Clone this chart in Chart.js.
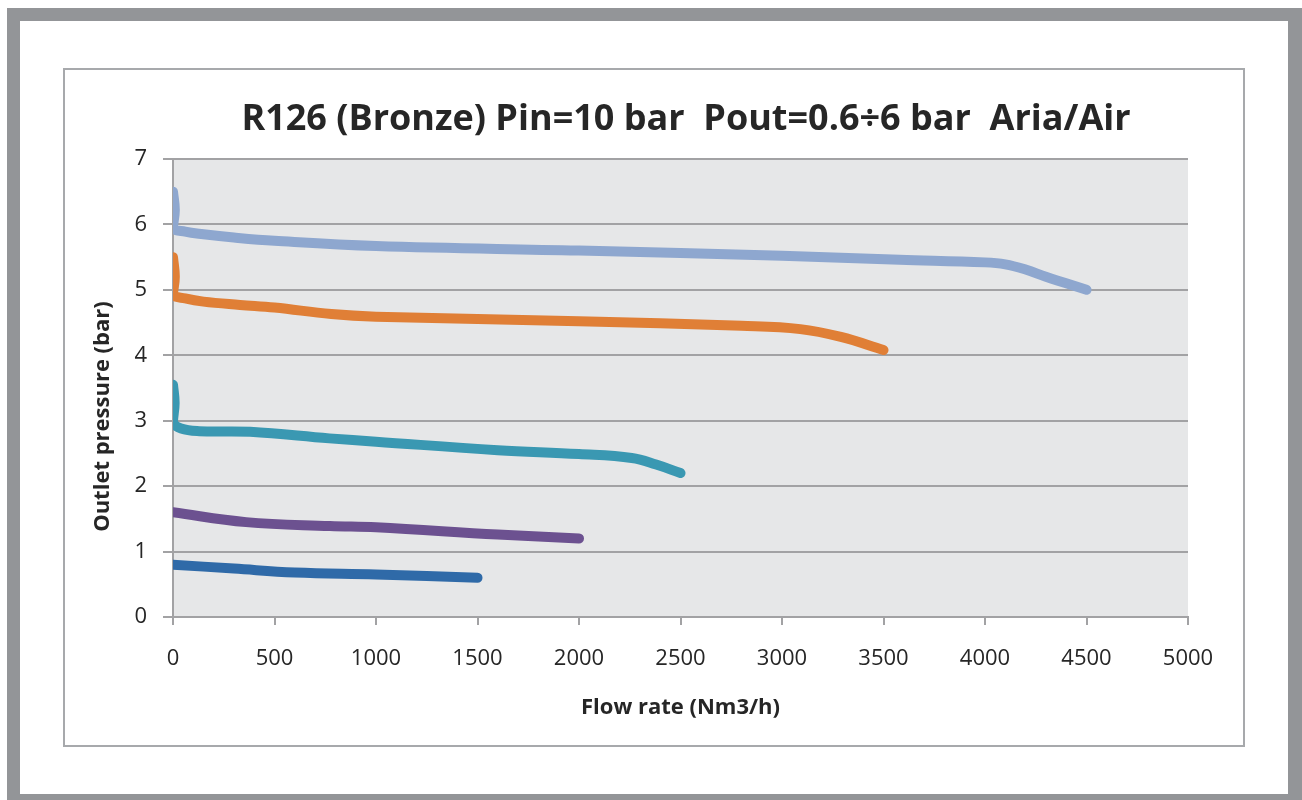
<!DOCTYPE html>
<html>
<head>
<meta charset="utf-8">
<script src="https://cdn.jsdelivr.net/npm/chart.js@4.4.1/dist/chart.umd.min.js"></script>
<style>
  html, body { margin: 0; padding: 0; background: #ffffff; }
  #wrap { width: 1302px; height: 800px; }
</style>
</head>
<body>
<div id="wrap"><canvas id="c" width="1302" height="800"></canvas></div>
<script>
// ---- Data ----
const chartTitle = "R126 (Bronze) Pin=10 bar  Pout=0.6÷6 bar  Aria/Air";
const xAxisTitle = "Flow rate (Nm3/h)";
const yAxisTitle = "Outlet pressure (bar)";

const xTicks = [0, 500, 1000, 1500, 2000, 2500, 3000, 3500, 4000, 4500, 5000];
const yTicks = [0, 1, 2, 3, 4, 5, 6, 7];

// Pout = 6 bar setting
const flow6 = [0, 9, 0, 60, 150, 300, 500, 1000, 2000, 3000, 3580, 4000, 4100, 4200, 4300, 4400, 4500];
const pres6 = [6.5, 6.22, 5.95, 5.89, 5.85, 5.8, 5.75, 5.67, 5.6, 5.52, 5.46, 5.42, 5.39, 5.31, 5.2, 5.1, 5.0];

// Pout = 5 bar setting
const flow5 = [0, 9, 0, 60, 150, 330, 500, 780, 1000, 2000, 2800, 3090, 3290, 3500];
const pres5 = [5.5, 5.2, 4.93, 4.87, 4.82, 4.77, 4.73, 4.63, 4.59, 4.52, 4.45, 4.40, 4.28, 4.08];

// Pout = 3 bar setting
const flow3 = [0, 8, 0, 40, 130, 380, 770, 1000, 1600, 2000, 2260, 2380, 2500];
const pres3 = [3.55, 3.27, 2.98, 2.88, 2.84, 2.83, 2.73, 2.68, 2.55, 2.49, 2.43, 2.33, 2.2];

// Pout = 1.6 bar setting
const flow16 = [0, 360, 773, 1000, 1600, 2000];
const pres16 = [1.6, 1.45, 1.39, 1.37, 1.26, 1.2];

// Pout = 0.8 bar setting
const flow08 = [0, 300, 600, 1000, 1500];
const pres08 = [0.8, 0.74, 0.68, 0.65, 0.6];

// ---- Build datasets ----
function pts(xs, ys) { return xs.map((x, i) => ({ x: x, y: ys[i] })); }
const seriesDefs = [
  { data: pts(flow6, pres6), color: '#8ea7cf' },
  { data: pts(flow5, pres5), color: '#e07f36' },
  { data: pts(flow3, pres3), color: '#3a98b2' },
  { data: pts(flow16, pres16), color: '#6c5190' },
  { data: pts(flow08, pres08), color: '#2f6aa8' }
];

const FONT = "'Open Sans', 'DejaVu Sans', sans-serif";
const TEXT = '#262626';
const GRID = '#a2a2a4';

const framePlugin = {
  id: 'frame',
  beforeDraw(chart) {
    const ctx = chart.ctx;
    ctx.save();
    ctx.fillStyle = '#ffffff';
    ctx.fillRect(0, 0, chart.width, chart.height);
    // outer gray frame
    ctx.fillStyle = '#939598';
    ctx.fillRect(7, 8, chart.width - 7, chart.height - 8);
    ctx.fillStyle = '#ffffff';
    ctx.fillRect(20, 21, 1268, 773);
    // inner box
    ctx.strokeStyle = '#a7a9ac';
    ctx.lineWidth = 2;
    ctx.strokeRect(64, 69, 1180, 677);
    // plot background
    const a = chart.chartArea;
    ctx.fillStyle = '#e6e7e8';
    ctx.fillRect(a.left, a.top, a.right - a.left, a.bottom - a.top);
    ctx.restore();
  },
  afterDraw(chart) {
    const ctx = chart.ctx;
    ctx.save();
    ctx.fillStyle = TEXT;
    ctx.font = "bold 36px " + FONT;
    ctx.textAlign = 'center';
    ctx.textBaseline = 'middle';
    ctx.fillText(chartTitle, 686, 120);
    ctx.restore();
  }
};

new Chart(document.getElementById('c'), {
  type: 'scatter',
  data: {
    datasets: seriesDefs.map(s => ({
      data: s.data,
      showLine: true,
      borderColor: s.color,
      backgroundColor: s.color,
      borderWidth: 10,
      borderCapStyle: 'round',
      borderJoinStyle: 'round',
      pointRadius: 0,
      pointHoverRadius: 0,
      tension: 0.4,
      clip: 0,
      fill: false
    }))
  },
  options: {
    responsive: false,
    animation: false,
    events: [],
    layout: { padding: { left: 0, right: 114, top: 159, bottom: 0 } },
    plugins: {
      legend: { display: false },
      tooltip: { enabled: false },
      title: { display: false }
    },
    scales: {
      x: {
        type: 'linear',
        min: 0, max: 5000,
        afterBuildTicks(scale) { scale.ticks = xTicks.map(v => ({ value: v })); },
        afterFit(scale) { scale.height = 183; },
        grid: { drawOnChartArea: false, drawTicks: true, tickLength: 8, color: GRID, lineWidth: 2 },
        border: { display: true, color: GRID, width: 2 },
        ticks: { color: TEXT, font: { family: FONT, size: 22 }, padding: 21, maxRotation: 0,
                 callback: (v) => String(v) },
        title: { display: true, text: xAxisTitle, color: TEXT,
                 font: { family: FONT, size: 22, weight: 'bold' }, padding: { top: 0, bottom: 79 } }
      },
      y: {
        type: 'linear',
        min: 0, max: 7,
        afterBuildTicks(scale) { scale.ticks = yTicks.map(v => ({ value: v })); },
        afterFit(scale) { scale.width = 173; },
        grid: { drawOnChartArea: true, drawTicks: true, tickLength: 10, color: GRID, lineWidth: 2 },
        border: { display: true, color: GRID, width: 2 },
        ticks: { color: TEXT, font: { family: FONT, size: 22 }, padding: 16,
                 callback: (v) => String(v) },
        title: { display: true, text: yAxisTitle + "          ", color: TEXT,
                 font: { family: FONT, size: 22, weight: 'bold' }, padding: { top: 90, bottom: 0 } }
      }
    }
  },
  plugins: [framePlugin]
});
</script>
</body>
</html>
